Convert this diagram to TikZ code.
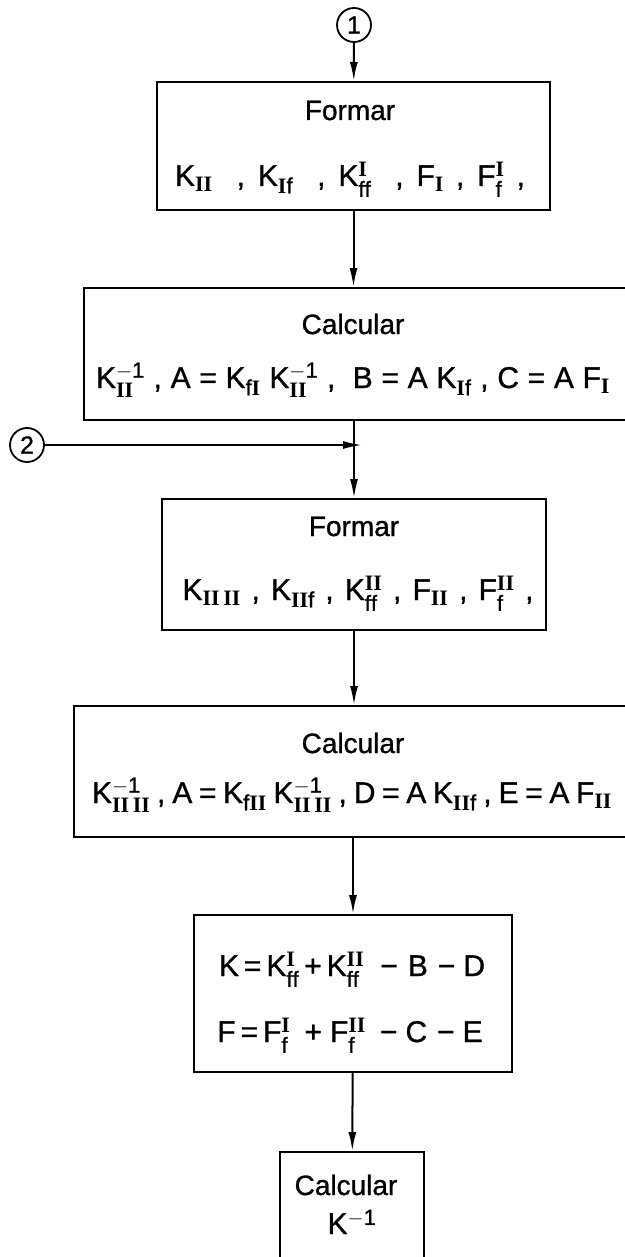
\documentclass[tikz,border=0pt]{standalone}
\usepackage{amsmath}
\usepackage{fontspec}
\setmainfont[FakeBold=1]{Liberation Sans}
\newfontfamily\numeralfont{Liberation Serif}
\usetikzlibrary{arrows.meta}
% larger indices than the default ratios give
\DeclareMathSizes{30}{30}{22}{16}
% Roman numeral indices set in a bold serif
\newcommand\rn[1]{\text{\numeralfont\bfseries #1}}
\newcommand\mf[1]{\mathrm{#1}}
% a formula line spread to a given width
\newcommand\spread[2]{\makebox[#1][s]{#2}}

\begin{document}
\begin{tikzpicture}[x=1pt,y=-1pt,
  line width=2pt,
  box/.style={draw, rectangle, inner sep=0pt},
  word/.style={inner sep=0pt, anchor=base, font=\fontsize{28}{32}\selectfont},
  formula/.style={inner sep=0pt, anchor=base, font=\fontsize{30}{34}\selectfont},
  flow/.style={-{Latex[length=19pt,width=8pt]}},
  conn/.style={draw, circle, minimum size=34pt, inner sep=0pt,
    line width=1.8pt, font=\fontsize{25}{28}\selectfont}]

\useasboundingbox (0,0) rectangle (624,1257);

% connectors (off-page entries)
\node[conn] (c1) at (354,25) {1};
\node[conn] (c2) at (27,445) {2};

% boxes
\node[box, minimum width=393pt, minimum height=128pt] (b1) at (353.5,146) {};
\node[box, minimum width=556pt, minimum height=132pt] (b2) at (362,354) {};
\node[box, minimum width=384pt, minimum height=131pt] (b3) at (354,564.5) {};
\node[box, minimum width=566pt, minimum height=131pt] (b4) at (357,771.5) {};
\node[box, minimum width=318pt, minimum height=157pt] (b5) at (353,993.5) {};
\node[box, minimum width=144pt, minimum height=128pt] (b6) at (352,1216) {};

% texts
\node[word] (t1a) at (350,120) {Formar};
\node[formula] (t1b) at (350,186) {\spread{350pt}{K$_{\rn{II}}$ \ , K$_{\rn{I}\mf{f}}$ \ , K$^{\rn{I}}_{\mf{ff}}$ \ , F$_{\rn{I}}$ , F$^{\rn{I}}_{\mf{f}}$ ,}};

\node[word] (t2a) at (353,334) {Calcular};
\node[formula] (t2b) at (353,388) {\spread{514pt}{K$^{\mf{-1}}_{\rn{II}}$ , A = K$_{\mf{f}\rn{I}}$ K$^{\mf{-1}}_{\rn{II}}$ , \ B = A K$_{\rn{I}\mf{f}}$ , C = A F$_{\rn{I}}$}};

\node[word] (t3a) at (354,536) {Formar};
\node[formula] (t3b) at (358,600) {\spread{351pt}{K$_{\rn{II\,II}}$ , K$_{\rn{II}\mf{f}}$ , K$^{\rn{II}}_{\mf{ff}}$ , F$_{\rn{II}}$ , F$^{\rn{II}}_{\mf{f}}$ ,}};

\node[word] (t4a) at (353,753) {Calcular};
\node[formula] (t4b) at (352,803) {\spread{520pt}{K$^{\mf{-1}}_{\rn{II\,II}}$ , A = K$_{\mf{f}\rn{II}}$ K$^{\mf{-1}}_{\rn{II\,II}}$ , D = A K$_{\rn{II}\mf{f}}$ , E = A F$_{\rn{II}}$}};

\node[formula] (t5a) at (352,976) {K\,=\,K$^{\rn{I}}_{\mf{ff}}$\,+\,K$^{\rn{II}}_{\mf{ff}}$\hspace{16pt}−\hspace{10pt}B\hspace{10pt}−\hspace{8pt}D};
\node[formula] (t5b) at (350,1042) {F\,=\,F$^{\rn{I}}_{\mf{f}}$\hspace{14pt}+\hspace{8pt}F$^{\rn{II}}_{\mf{f}}$\hspace{14pt}−\hspace{8pt}C\hspace{10pt}−\hspace{8pt}E};

\node[word] (t6a) at (346,1195) {Calcular};
\node[formula] (t6b) at (352,1234) {K$^{\mf{-1}}$};

% flow lines
\coordinate (j) at (b2.south |- c2);
\draw[flow] (c1) -- (b1);
\draw[flow] (b1) -- (b1 |- b2.north);
\draw[flow] (b2.south -| b3.north) -- (b3);
\draw[flow] (c2) -- (j);
\draw[flow] (b3) -- (b3 |- b4.north);
\draw[flow] (b4.south -| b5.north) -- (b5);
\draw[flow] (b5) -- (b6);
\end{tikzpicture}
\end{document}
